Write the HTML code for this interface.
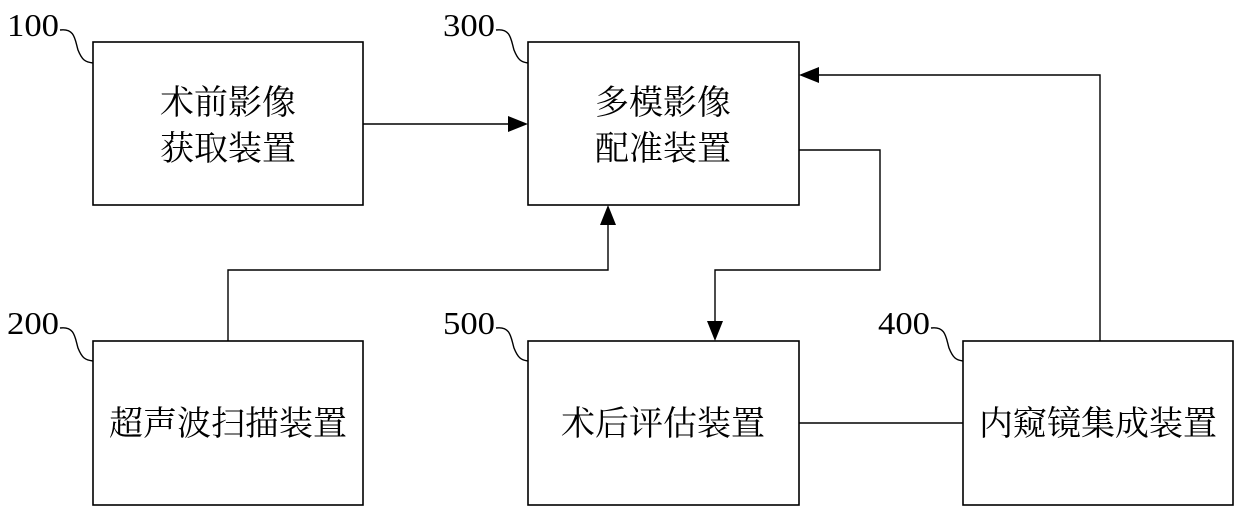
<!DOCTYPE html>
<html><head><meta charset="utf-8"><style>
html,body{margin:0;padding:0;background:#fff;}
svg{display:block;}
.b{fill:#fff;stroke:#000;stroke-width:1.6;}
.l{fill:none;stroke:#000;stroke-width:1.4;}
.t{font-family:"Liberation Serif","Noto Serif CJK SC",serif;font-size:34px;fill:#000;text-anchor:middle;}
.n{font-family:"Liberation Serif",serif;font-size:32px;fill:#000;}
</style></head><body>
<svg width="1240" height="510" viewBox="0 0 1240 510">
<rect class="b" x="93" y="42" width="270" height="163"/>
<rect class="b" x="528" y="42" width="271" height="163"/>
<rect class="b" x="93" y="341" width="270" height="164"/>
<rect class="b" x="528" y="341" width="271" height="164"/>
<rect class="b" x="963" y="341" width="270" height="164"/>

<text class="t" x="228" y="114">术前影像</text>
<text class="t" x="228" y="160">获取装置</text>
<text class="t" x="663" y="114">多模影像</text>
<text class="t" x="663" y="160">配准装置</text>
<text class="t" x="228" y="435">超声波扫描装置</text>
<text class="t" x="663" y="435">术后评估装置</text>
<text class="t" x="1098" y="435">内窥镜集成装置</text>

<text class="n" x="7" y="36" textLength="52" lengthAdjust="spacingAndGlyphs">100</text>
<text class="n" x="443" y="36" textLength="52" lengthAdjust="spacingAndGlyphs">300</text>
<text class="n" x="7" y="334" textLength="52" lengthAdjust="spacingAndGlyphs">200</text>
<text class="n" x="443" y="334" textLength="52" lengthAdjust="spacingAndGlyphs">500</text>
<text class="n" x="878" y="334" textLength="52" lengthAdjust="spacingAndGlyphs">400</text>
<path class="l" d="M60 30 C75 28,75 40,78 50 C82 60,85 62,93 63"/>
<path class="l" d="M496 30 C511 28,511 40,514 50 C518 60,521 62,528 63"/>
<path class="l" d="M60 328 C75 326,75 338,78 348 C82 358,85 360,93 361"/>
<path class="l" d="M496 328 C511 326,511 338,514 348 C518 358,521 360,528 361"/>
<path class="l" d="M931 328 C946 326,946 338,949 348 C953 358,956 360,963 361"/>

<path class="l" d="M363 124 H510"/>
<polygon points="528,124 508,116 508,132"/>
<path class="l" d="M228 341 V270 H608 V224"/>
<polygon points="608,205 600,225 616,225"/>
<path class="l" d="M799 150 H880 V270 H715 V322"/>
<polygon points="715,341 707,321 723,321"/>
<path class="l" d="M1100 341 V75 H818"/>
<polygon points="799,75 819,67 819,83"/>
<path class="l" d="M799 423 H963"/>
</svg>
</body></html>
